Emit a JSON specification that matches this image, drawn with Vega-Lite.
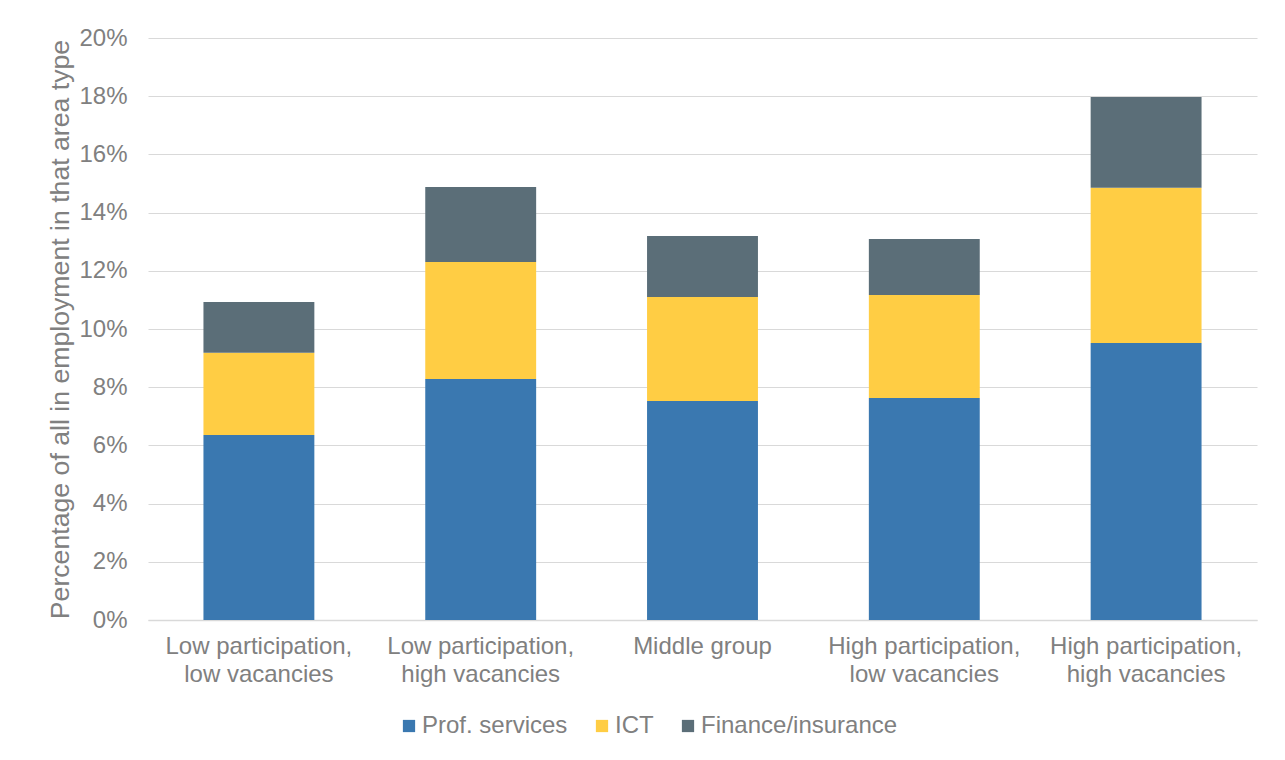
{
  "$schema": "https://vega.github.io/schema/vega-lite/v6.json",
  "autosize": "none",
  "width": 1109,
  "height": 582,
  "padding": {"left": 148, "top": 38, "right": 28, "bottom": 140},
  "background": "white",
  "config": {
    "font": "Liberation Sans",
    "view": {"stroke": null}
  },
  "data": {
    "values": [
      {"area": "Low participation, low vacancies", "sector": "Prof. services", "share": 0.0636},
      {"area": "Low participation, low vacancies", "sector": "ICT", "share": 0.0282},
      {"area": "Low participation, low vacancies", "sector": "Finance/insurance", "share": 0.0175},
      {"area": "Low participation, high vacancies", "sector": "Prof. services", "share": 0.0828},
      {"area": "Low participation, high vacancies", "sector": "ICT", "share": 0.0402},
      {"area": "Low participation, high vacancies", "sector": "Finance/insurance", "share": 0.0258},
      {"area": "Middle group", "sector": "Prof. services", "share": 0.0753},
      {"area": "Middle group", "sector": "ICT", "share": 0.0357},
      {"area": "Middle group", "sector": "Finance/insurance", "share": 0.0210},
      {"area": "High participation, low vacancies", "sector": "Prof. services", "share": 0.0763},
      {"area": "High participation, low vacancies", "sector": "ICT", "share": 0.0354},
      {"area": "High participation, low vacancies", "sector": "Finance/insurance", "share": 0.0192},
      {"area": "High participation, high vacancies", "sector": "Prof. services", "share": 0.0952},
      {"area": "High participation, high vacancies", "sector": "ICT", "share": 0.0533},
      {"area": "High participation, high vacancies", "sector": "Finance/insurance", "share": 0.0312}
    ]
  },
  "mark": {"type": "bar"},
  "encoding": {
    "x": {
      "field": "area",
      "type": "nominal",
      "sort": null,
      "scale": {"paddingInner": 0.5, "paddingOuter": 0.25},
      "axis": {
        "title": null,
        "labelAngle": 0,
        "labelFontSize": 24,
        "labelColor": "#808080",
        "labelPadding": 14,
        "labelLineHeight": 28,
        "labelLimit": 0,
        "ticks": false,
        "domainColor": "#d9d9d9",
        "domainWidth": 1.5,
        "labelExpr": "indexof(datum.label, ',') > 0 ? [slice(datum.label, 0, indexof(datum.label, ',') + 1), slice(datum.label, indexof(datum.label, ',') + 2)] : datum.label"
      }
    },
    "y": {
      "field": "share",
      "type": "quantitative",
      "aggregate": "sum",
      "stack": "zero",
      "scale": {"domain": [0, 0.2], "nice": false},
      "axis": {
        "title": "Percentage of all in employment in that area type",
        "titleFontSize": 26.67,
        "titleFontWeight": "normal",
        "titleColor": "#808080",
        "titlePadding": 4,
        "format": ".0%",
        "values": [0, 0.02, 0.04, 0.06, 0.08, 0.1, 0.12, 0.14, 0.16, 0.18, 0.2],
        "labelFontSize": 24,
        "labelColor": "#808080",
        "labelPadding": 21,
        "labelLimit": 0,
        "ticks": false,
        "domain": false,
        "gridColor": "#d9d9d9",
        "gridWidth": 1.2
      }
    },
    "color": {
      "field": "sector",
      "type": "nominal",
      "scale": {
        "domain": ["Prof. services", "ICT", "Finance/insurance"],
        "range": ["#3a78b0", "#ffcd44", "#5b6e78"]
      },
      "legend": {
        "title": null,
        "orient": "none",
        "legendX": 249,
        "legendY": 676,
        "direction": "horizontal",
        "symbolType": "square",
        "symbolSize": 150,
        "symbolStrokeWidth": 0,
        "labelFontSize": 24,
        "labelColor": "#808080",
        "labelOffset": 1,
        "labelLimit": 0,
        "columnPadding": 22
      }
    },
    "order": {"field": "sector", "sort": "descending"}
  }
}
